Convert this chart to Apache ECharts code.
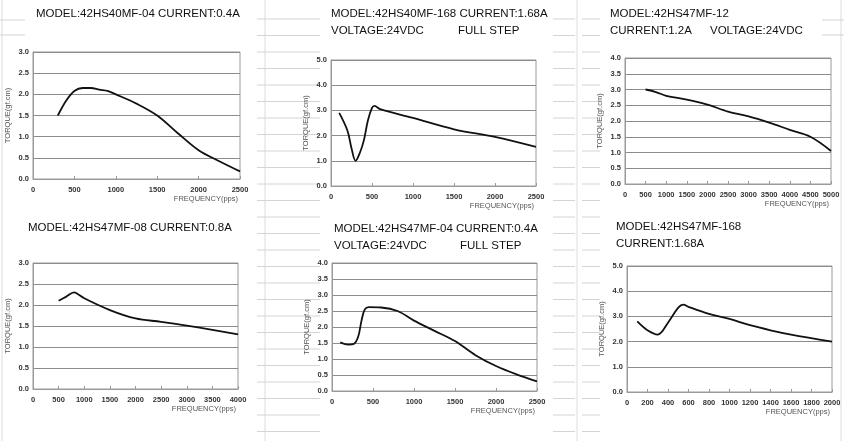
<!DOCTYPE html>
<html>
<head>
<meta charset="utf-8">
<script src="https://cdn.jsdelivr.net/npm/echarts@6/dist/echarts.min.js"></script>
<style>
  html, body { margin: 0; padding: 0; background: #fff; }
  #main { width: 844px; height: 441px; }
</style>
</head>
<body>
<div id="main"></div>
<script>
// torque curves (freq in pps, torque in gf.cm)
var freq1 = [300, 400, 500, 600, 700, 800, 900, 1000, 1250, 1500, 1750, 2000, 2250, 2500];
var torque1 = [1.5, 1.85, 2.08, 2.15, 2.15, 2.11, 2.08, 2.0, 1.78, 1.5, 1.08, 0.68, 0.42, 0.18];

var freq2 = [100, 200, 250, 300, 350, 400, 450, 500, 530, 600, 1000, 1500, 2000, 2500];
var torque2 = [2.9, 2.2, 1.5, 1.0, 1.3, 1.8, 2.6, 3.1, 3.18, 3.05, 2.7, 2.25, 1.95, 1.55];

var freq3 = [500, 750, 1000, 1500, 2000, 2500, 3000, 3500, 4000, 4500, 5000];
var torque3 = [3.0, 2.92, 2.8, 2.68, 2.52, 2.3, 2.15, 1.95, 1.72, 1.5, 1.05];

var freq4 = [500, 650, 800, 850, 1000, 1500, 2000, 2500, 3000, 3500, 4000];
var torque4 = [2.1, 2.2, 2.3, 2.28, 2.16, 1.88, 1.68, 1.6, 1.51, 1.41, 1.3];

var freq5 = [100, 200, 270, 320, 360, 400, 450, 600, 800, 1000, 1250, 1500, 1750, 2000, 2250, 2500];
var torque5 = [1.52, 1.45, 1.48, 1.7, 2.2, 2.55, 2.62, 2.61, 2.5, 2.2, 1.88, 1.56, 1.12, 0.78, 0.52, 0.3];

var freq6 = [100, 200, 300, 400, 500, 550, 600, 800, 1000, 1200, 1400, 1600, 2000];
var torque6 = [2.8, 2.45, 2.28, 2.75, 3.35, 3.47, 3.38, 3.1, 2.9, 2.65, 2.45, 2.28, 2.0];

// axis ranges per panel
var xMax = [2500, 2500, 5000, 4000, 2500, 2000];
var xStep = [500, 500, 500, 500, 500, 200];
var yMax = [3, 5, 4, 3, 4, 5];
var yStep = [0.5, 1, 0.5, 0.5, 0.5, 1];

var titleLines = [
  ['MODEL:42HS40MF-04 CURRENT:0.4A'],
  ['MODEL:42HS40MF-168 CURRENT:1.68A', 'VOLTAGE:24VDC'],
  ['MODEL:42HS47MF-12', 'CURRENT:1.2A'],
  ['MODEL:42HS47MF-08 CURRENT:0.8A'],
  ['MODEL:42HS47MF-04 CURRENT:0.4A', 'VOLTAGE:24VDC'],
  ['MODEL:42HS47MF-168', 'CURRENT:1.68A']
];
var extraTitle = ['', 'FULL STEP', 'VOLTAGE:24VDC', '', 'FULL STEP', ''];

var freqs = [freq1, freq2, freq3, freq4, freq5, freq6];
var torques = [torque1, torque2, torque3, torque4, torque5, torque6];

// layout of each panel
var grids = [
  { left: 33, top: 52, width: 207, height: 127 },
  { left: 331, top: 60, width: 205, height: 126 },
  { left: 625, top: 58, width: 206, height: 126 },
  { left: 33, top: 263, width: 205, height: 126 },
  { left: 332, top: 263, width: 205, height: 128 },
  { left: 627, top: 266, width: 205, height: 126 }
];
var titlePos = [[36, 8], [331, 8], [610, 8], [28, 222], [334, 223], [616, 221]];
var extraX = [0, 458, 710, 0, 460, 0];

var titleFont = { fontFamily: 'Liberation Sans, Arial', fontSize: 11.5, fontWeight: 'normal', color: '#111' };

var titles = [];
var xAxes = [];
var yAxes = [];
var series = [];
for (var i = 0; i < 6; i++) {
  titleLines[i].forEach(function (line, k) {
    titles.push({ text: line, left: titlePos[i][0], top: titlePos[i][1] + k * 17, textStyle: titleFont, padding: 0 });
  });
  if (extraTitle[i]) {
    titles.push({ text: extraTitle[i], left: extraX[i], top: titlePos[i][1] + 17, textStyle: titleFont, padding: 0 });
  }
  grids[i].show = true;
  grids[i].borderColor = '#9a9a9a';
  grids[i].borderWidth = 1;

  xAxes.push({
    gridIndex: i, type: 'value', min: 0, max: xMax[i], interval: xStep[i],
    name: 'FREQUENCY(pps)', nameLocation: 'end', nameGap: -2,
    nameTextStyle: { fontSize: 7.5, color: '#555', align: 'right', verticalAlign: 'top', padding: [16, 0, 0, 0], fontFamily: 'Liberation Sans, Arial' },
    axisLine: { lineStyle: { color: '#9a9a9a' } },
    axisTick: { show: true, inside: true, length: 3, lineStyle: { color: '#9a9a9a' } },
    axisLabel: { fontSize: 7.5, fontWeight: 'bold', color: '#333', margin: 7, fontFamily: 'Liberation Sans, Arial',
      formatter: function (v) { return String(v); } },
    splitLine: { show: false }
  });
  yAxes.push({
    gridIndex: i, type: 'value', min: 0, max: yMax[i], interval: yStep[i],
    name: 'TORQUE(gf.cm)', nameLocation: 'middle', nameGap: 21,
    nameTextStyle: { fontSize: 7.5, color: '#555', fontFamily: 'Liberation Sans, Arial' },
    axisLine: { show: true, lineStyle: { color: '#9a9a9a' } },
    axisTick: { show: false },
    axisLabel: { fontSize: 7.5, fontWeight: 'bold', color: '#333', margin: 4, fontFamily: 'Liberation Sans, Arial',
      formatter: function (v) { return v.toFixed(1); } },
    splitLine: { show: true, lineStyle: { color: '#8c8c8c', width: 1.2 } }
  });
  series.push({
    type: 'line', xAxisIndex: i, yAxisIndex: i, smooth: 0.35, symbol: 'none',
    lineStyle: { color: '#111', width: 1.8 },
    data: freqs[i].map(function (f, k) { return [f, torques[i][k]]; })
  });
}

// faint spreadsheet cell lines behind the charts
var deco = [];
[2, 265, 577, 841].forEach(function (x) {
  deco.push({ type: 'line', shape: { x1: x, y1: 0, x2: x, y2: 441 }, style: { stroke: '#dcdcdc', lineWidth: 1 }, z: -10 });
});
for (var y = 19; y < 436; y += 16.5) {
  [[257, 320], [553, 575], [582, 600]].forEach(function (seg) {
    deco.push({ type: 'line', shape: { x1: seg[0], y1: y, x2: seg[1], y2: y }, style: { stroke: '#d4d4d4', lineWidth: 1 }, z: -10 });
  });
}
[20, 35].forEach(function (y) {
  deco.push({ type: 'line', shape: { x1: 0, y1: y, x2: 25, y2: y }, style: { stroke: '#d4d4d4', lineWidth: 1 }, z: -10 });
  deco.push({ type: 'line', shape: { x1: 822, y1: y, x2: 844, y2: y }, style: { stroke: '#d4d4d4', lineWidth: 1 }, z: -10 });
});

var option = {
  backgroundColor: '#fff',
  animation: false,
  title: titles,
  grid: grids,
  xAxis: xAxes,
  yAxis: yAxes,
  series: series,
  graphic: deco
};

var myChart = echarts.init(document.getElementById('main'));
myChart.setOption(option);
</script>
</body>
</html>
